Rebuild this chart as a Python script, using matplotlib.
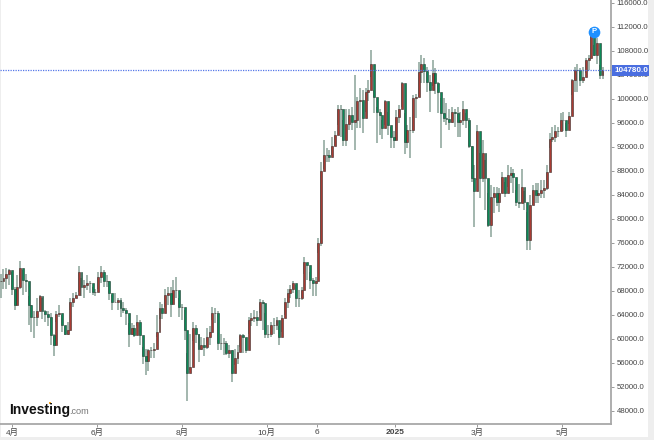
import matplotlib
matplotlib.use('Agg')
import matplotlib.pyplot as plt
from matplotlib.patches import Rectangle
import pandas as pd
import numpy as np

closes = [
    69600, 70100, 70800, 71500, 68400, 65700, 68700, 71800, 69800, 69600,
    65700, 63700, 63700, 64600, 67100, 64600, 64100, 63700, 60700, 59000,
    64100, 64300, 62300, 60800, 61500, 66200, 66800, 67300, 71200, 68700,
    69000, 69300, 69300, 67800, 67800, 70400, 71200, 69600, 69600, 67600,
    66200, 66200, 66500, 65100, 64800, 64300, 60900, 61800, 60700, 62900,
    60700, 57100, 56400, 58200, 58200, 58400, 61200, 65100, 64300, 67300,
    67600, 65900, 68200, 68200, 65400, 65400, 61500, 54300, 55400, 61800,
    60900, 58400, 59000, 58700, 60400, 61200, 64300,
    64300, 59300, 59300, 59300, 57600, 58200, 54300, 56800, 57900, 60700,
    60400, 58200, 63200, 63500, 63600, 63200, 66100, 66000, 60900, 60900,
    62300, 62400, 63200, 60400, 63500, 66200, 67600, 68400, 69300, 66800,
    66800, 68200, 72900, 72300, 69800, 69300, 69600, 76000,
    88000,
    90700, 90700, 90400, 92100, 94000, 98400, 98400, 93200, 95900, 97300,
    96200, 96500, 99600, 99800, 96800, 101200, 101500, 105900, 100400, 97900,
    97300, 95100, 99600, 95700, 93700, 93200, 97000, 98400, 102600, 92900,
    94800, 94800, 100100, 100400, 104500,
    105900, 104600, 102900, 101500, 104300, 102600, 101200, 97600, 96800, 96700,
    96200, 97900, 97600, 96200, 96500, 98400, 96500, 92100, 86800, 84600,
    94600, 86800, 91000, 86800, 79000, 83700, 84300, 82900, 84300, 87000,
    84300, 87300, 87600, 87000, 82900, 82600, 85400, 82900,
    76500, 82300, 84800, 84000, 84300, 84800, 85200, 87800,
    93400, 93700, 94700, 94600, 96500, 96500, 94800, 97100, 103200, 104800,
    104800, 103200, 103700, 106500, 106800, 111200, 107300, 109300, 104000, 104780,
]
highs = [
    70900, 71700, 71800, 71700, 71200, 68700, 70700, 73000, 71500, 70900,
    67100, 65700, 64600, 66800, 67400, 66800, 64800, 64600, 64300, 60900,
    64600, 65700, 64000, 62100, 62900, 66800, 67600, 67900, 72100, 70100,
    69800, 70700, 69600, 68700, 68400, 71200, 72100, 71500, 70700, 69600,
    67300, 67600, 66800, 66800, 66200, 65100, 62600, 62600, 62300, 64000,
    63200, 58700, 58400, 58400, 58700, 59300, 64000, 66200, 65900, 68400,
    68700, 68700, 69800, 70300, 66800, 65900, 64800, 57600, 60900, 62900,
    62300, 60900, 60400, 60100, 61800, 62100, 65400,
    65100, 64600, 60900, 60100, 59600, 59000, 58200, 58400, 59000, 60900,
    60800, 60100, 63700, 64300, 64800, 64600, 66600, 66500, 64300, 62300,
    62900, 63500, 63600, 62100, 64000, 66800, 68300, 69000, 69700, 69000,
    68200, 68700, 73600, 72600, 71200, 70100, 70400, 76800,
    89500,
    93200, 91800, 91500, 93700, 94600, 99000, 99000, 96500, 98400, 98400,
    98700, 104000, 100400, 101800, 101500, 101800, 103200, 108200, 101500, 98700,
    98400, 96500, 99800, 97900, 95400, 94600, 98200, 99000, 102900, 97600,
    95700, 97000, 100700, 100900, 106200,
    107300, 106800, 105400, 104000, 106500, 105100, 102900, 100100, 100100, 99300,
    98400, 98700, 98400, 98700, 97900, 99600, 97600, 96800, 92100, 89000,
    95700, 91000, 93200, 89800, 84300, 85700, 85400, 85400, 85100, 87900,
    86200, 89000, 88700, 88400, 84800, 85900, 88400, 84600,
    81200, 84000, 85700, 86000, 86000, 86500, 86500, 89000,
    94300, 95400, 95700, 95400, 97600, 97900, 96000, 97900, 103400, 105400,
    105900, 105100, 105400, 106800, 107300, 111800, 109000, 110100, 105700, 105400,
]
lows = [
    66800, 68400, 68400, 69000, 67300, 64800, 65700, 68400, 67300, 67900,
    62300, 61200, 60100, 62100, 64600, 63400, 62900, 62100, 59000, 57100,
    62900, 63700, 61200, 60600, 60700, 64800, 65400, 66800, 67900, 67100,
    66800, 68200, 67600, 67300, 67100, 68400, 69300, 68700, 68700, 66500,
    64800, 66200, 64800, 63700, 64300, 62300, 58700, 60700, 60400, 62100,
    59000, 55900, 54000, 54600, 56800, 56800, 60400, 63400, 63400, 65400,
    65700, 63700, 65900, 66800, 63700, 63200, 59800, 49600, 54800, 59600,
    59300, 56200, 58200, 57100, 58400, 59000, 63200,
    62600, 58200, 58200, 57300, 57300, 56800, 52900, 55700, 55900, 58700,
    57600, 57600, 60900, 62100, 62900, 62100, 64300, 61500, 60100, 60100,
    60400, 60900, 61500, 59000, 61200, 64000, 65100, 66800, 67600, 65400,
    65400, 66500, 70900, 69800, 68400, 67100, 67100, 74300,
    75500,
    88400, 89500, 89500, 90700, 92100, 95700, 93700, 92100, 92100, 94800,
    94800, 91500, 95100, 95100, 94300, 97900, 99600, 103700, 97600, 92600,
    94000, 93400, 95700, 94000, 91800, 91800, 93200, 96000, 98700, 90900,
    91800, 90100, 94300, 96800, 100400,
    102600, 102600, 101200, 97900, 102100, 100900, 97600, 91800, 96200, 95700,
    94800, 96000, 95400, 93700, 93700, 95700, 95100, 91800, 86200, 78700,
    86500, 83500, 86200, 81500, 78700, 77000, 81000, 82100, 81200, 84300,
    83700, 85400, 86000, 84300, 82100, 81800, 82600, 81500,
    74800, 74800, 82300, 82700, 82700, 83500, 83500, 84800,
    91800, 92900, 92900, 93700, 94600, 94600, 93700, 95900, 100700, 101200,
    101200, 102100, 102600, 104300, 104800, 106800, 107100, 105900, 103400, 103300,
]

last_price = 104780
y_ticks = list(range(48000, 116001, 4000))
x_tick_dates = ['2024-04-01', '2024-06-01', '2024-08-01', '2024-10-01',
                '2024-11-06', '2025-01-01', '2025-03-01', '2025-05-01']
x_tick_labels = ['4月', '6月', '8月', '10月', '6', '2025', '3月', '5月']

plt.rcParams['font.family'] = ['Liberation Sans', 'Noto Sans CJK SC', 'DejaVu Sans']

W, H = 654, 440
fig = plt.figure(figsize=(W / 100, H / 100), dpi=100, facecolor='#eeeeee')
fig.add_artist(Rectangle((1 / W, 1 - 437 / H), 647 / W, 437 / H, transform=fig.transFigure,
                         facecolor='white', edgecolor='none', zorder=-5))
ax = fig.add_axes([0, 1 - 424 / H, 611 / W, 424 / H])
ax.patch.set_alpha(0)

dates = pd.date_range('2024-03-24', periods=len(closes), freq='2D')
closes = np.array(closes)
opens = np.r_[closes[0], closes[:-1]]
up = closes >= opens

# wicks first, bodies on top
ax.vlines(dates, lows, highs, color='#8aa398', lw=1.1, zorder=2)
ax.bar(dates[up], (closes - opens)[up], bottom=opens[up], width=1.4,
       color='#a93b33', edgecolor='#3a2a28', linewidth=0.4, zorder=3)
ax.bar(dates[~up], (closes - opens)[~up], bottom=opens[~up], width=1.4,
       color='#0c8a57', edgecolor='#1f3a30', linewidth=0.4, zorder=3)

ax.set_xlim(pd.Timestamp('2024-03-23 12:00'), pd.Timestamp('2024-03-23 12:00') + pd.Timedelta(days=438.6))
ax.set_ylim(45830, 116500)

ax.axhline(last_price, color='#5577e8', lw=0.9, ls=(0, (1, 1)), zorder=4)

for s in ['top', 'left']:
    ax.spines[s].set_visible(False)
for s in ['right', 'bottom']:
    ax.spines[s].set_color('#a8a8a8')
    ax.spines[s].set_linewidth(1.3)

ax.yaxis.tick_right()
ax.set_yticks(y_ticks)
ax.set_yticklabels([f'{v:.1f}' for v in y_ticks], fontsize=5.6, color='#444444')
ax.set_xticks(pd.to_datetime(x_tick_dates))
ax.set_xticklabels(x_tick_labels, fontsize=6, color='#444444')
ax.get_xticklabels()[5].set_fontweight('bold')
ax.tick_params(axis='y', length=2.5, width=0.7, color='#999999', pad=1.5)
ax.tick_params(axis='x', length=2.5, width=0.7, color='#999999', pad=1)

# last price tag
trans = ax.get_yaxis_transform()
ax.add_patch(Rectangle((612 / 611, 103830), 37 / 611, 1840, transform=trans, facecolor='#4a6ee0',
                       edgecolor='none', clip_on=False, zorder=6))
ax.text(631 / 611, last_price, f'{last_price:.1f}', transform=trans, ha='center', va='center',
        fontsize=5.8, fontweight='bold', color='white', zorder=7, clip_on=False)

# P marker
ax.plot(dates[213], 111170, 'o', ms=8.4, color='#1e90ff', mec='none', zorder=8, clip_on=False)
ax.text(dates[213], 111170, 'P', ha='center', va='center', fontsize=5.5, fontweight='bold',
        color='white', zorder=9)

# logo
fig.text(9 / W, 1 - 414 / H, 'Investing', fontsize=10, fontweight='bold', color='#111111', ha='left', va='baseline')
fig.text(69 / W, 1 - 414 / H, '.com', fontsize=6.6, color='#777777', ha='left', va='baseline')
fig.add_artist(Rectangle((49 / W, 1 - 404 / H), 2.2 / W, 2.2 / H, transform=fig.transFigure,
                         facecolor='#f5a623', edgecolor='none'))

fig.savefig('out.png', dpi=100)
